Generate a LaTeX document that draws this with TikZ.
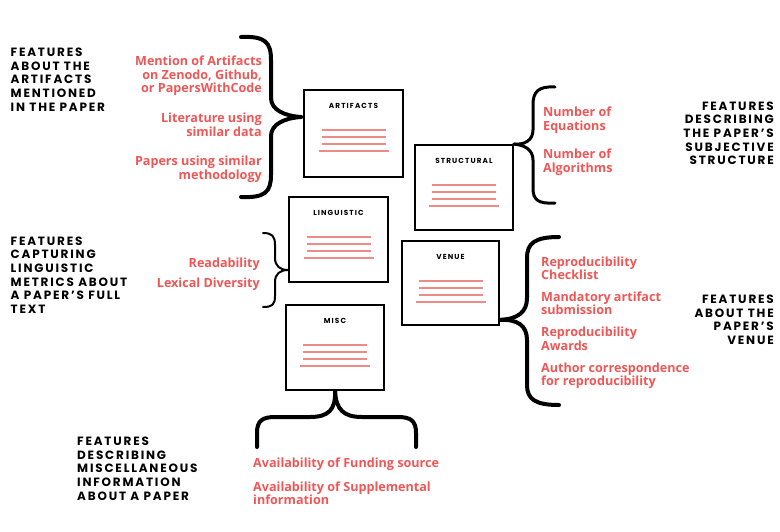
\documentclass[tikz,border=0pt]{standalone}
\usepackage{fontspec}
\setmainfont{Open Sans}
\newfontfamily\headfont[LetterSpace=15]{Poppins}
\newfontfamily\redfont{Open Sans}
\definecolor{redtxt}{HTML}{EF5656}
\definecolor{redln}{HTML}{F08A8A}
\tikzset{
 docbox/.style={draw=black,line width=1.8pt,inner sep=0pt,fill=white},
 boxtitle/.style={font=\headfont\bfseries\fontsize{7.3}{9}\selectfont,inner sep=0pt},
 redline/.style={draw=redln,line width=1.3pt},
 redlabel/.style={font=\redfont\bfseries\fontsize{12.6}{13.3}\selectfont,text=redtxt,inner sep=0pt},
 heading/.style={font=\headfont\bfseries\fontsize{12}{13.6}\selectfont,inner sep=0pt},
 brace/.style={draw=black,line cap=round,line join=round}
}
\newcommand\mydocbox[5]{%
 \node[docbox,minimum width=#3pt,minimum height=#4pt] (#1) at (#2) {};
 \node[boxtitle] (#1t) at ([yshift=-16.5pt]#1.north) {#5};
 \foreach \dy/\hw in {41/32,48/32,55/32,62/35}
  \draw[redline] ([xshift={-\hw pt},yshift={-\dy pt}]#1.north) -- ([xshift={\hw pt},yshift={-\dy pt}]#1.north);
}
\begin{document}
\begin{tikzpicture}[x=1pt,y=-1pt]
\useasboundingbox (0,0) rectangle (780,531);
% boxes
\mydocbox{art}{353.5,133.5}{99}{87}{ARTIFACTS}
\mydocbox{str}{464,187.5}{98}{85}{STRUCTURAL}
\mydocbox{ling}{338.5,239.5}{99}{85}{LINGUISTIC}
\mydocbox{ven}{450.5,283}{97}{84}{VENUE}
\mydocbox{misc}{335,347.5}{98}{85}{MISC}
% brace tips
\coordinate (artTip) at (301,117);
\coordinate (lingTip) at ([yshift=-30.5pt]ling.west);
\coordinate (venTip) at ([yshift=6pt]ven.south east);
% braces
\draw[brace,line width=4pt] (artTip) .. controls (285,116) and (271,110) .. (271,98) -- (271,60) .. controls (271,42) and (265,36) .. (241,37);
\draw[brace,line width=4pt] (artTip) .. controls (285,118) and (271,124) .. (271,136) -- (271,175) .. controls (271,192) and (265,198) .. (241,197);
\draw[brace,line width=3pt] (str.north east) .. controls (525,145) and (533,140) .. (533,130) -- (533,105) .. controls (533,92) and (538,86) .. (555,87);
\draw[brace,line width=3pt] (str.north east) .. controls (525,145) and (533,150) .. (533,160) -- (533,188) .. controls (533,200) and (538,204) .. (555,203);
\draw[brace,line width=2pt] (lingTip) .. controls (280,270) and (275,266) .. (275,258) -- (275,245) .. controls (275,236) and (272,233) .. (263,233);
\draw[brace,line width=2pt] (lingTip) .. controls (280,270) and (275,274) .. (275,282) -- (275,296) .. controls (275,305) and (272,307) .. (263,307);
\draw[brace,line width=4pt] (venTip) .. controls (518,319) and (527,312) .. (527,298) -- (527,258) .. controls (527,243) and (535,237) .. (559,237);
\draw[brace,line width=4pt] (venTip) .. controls (518,319) and (527,326) .. (527,340) -- (527,385) .. controls (527,399) and (535,405) .. (559,405);
\draw[brace,line width=4pt] (misc.south) .. controls (336,410) and (328,417) .. (310,417) -- (275,417) .. controls (262,417) and (257,421) .. (257,433) -- (257,447);
\draw[brace,line width=4pt] (misc.south) .. controls (336,410) and (344,417) .. (362,417) -- (398,417) .. controls (411,417) and (416,421) .. (416,433) -- (416,447);
% red labels
\node[redlabel,align=right,anchor=north east] (a1) at (262,56) {Mention of Artifacts\\on Zenodo, Github,\\or PapersWithCode};
\node[redlabel,align=right,anchor=north east] (a2) at (262,113) {Literature using\\similar data};
\node[redlabel,align=right,anchor=north east] (a3) at (262,156) {Papers using similar\\methodology};
\node[redlabel,align=left,anchor=north west] (s1) at (543,107) {Number of\\Equations};
\node[redlabel,align=left,anchor=north west] (s2) at (543,149) {Number of\\Algorithms};
\node[redlabel,anchor=north east] (l1) at (260,257.5) {Readability};
\node[redlabel,anchor=north east] (l2) at (260,278) {Lexical Diversity};
\node[redlabel,align=left,anchor=north west] (v1) at (541,256.5) {Reproducibility\\Checklist};
\node[redlabel,align=left,anchor=north west] (v2) at (541,291.5) {Mandatory artifact\\submission};
\node[redlabel,align=left,anchor=north west] (v3) at (541,327) {Reproducibility\\Awards};
\node[redlabel,align=left,anchor=north west] (v4) at (541,362.5) {Author correspondence\\for reproducibility};
\node[redlabel,anchor=north west] (m1) at (253,458) {Availability of Funding source};
\node[redlabel,align=left,anchor=north west] (m2) at (253,481.5) {Availability\ of\ Supplemental\\information};
% headings
\node[heading,align=left,anchor=north west] (h1) at (10.5,48) {FEATURES\\ABOUT THE\\ARTIFACTS\\MENTIONED\\IN THE PAPER};
\node[heading,align=left,anchor=north west] (h2) at (10.5,236.5) {FEATURES\\CAPTURING\\LINGUISTIC\\METRICS ABOUT\\A PAPER’S FULL\\TEXT};
\node[heading,align=right,anchor=north east] (h3) at (774,101.5) {FEATURES\\DESCRIBING\\THE PAPER’S\\SUBJECTIVE\\STRUCTURE};
\node[heading,align=right,anchor=north east] (h4) at (774,295) {FEATURES\\ABOUT THE\\PAPER’S\\VENUE};
\node[heading,align=left,anchor=north west] (h5) at (77,437) {FEATURES\\DESCRIBING\\MISCELLANEOUS\\INFORMATION\\ABOUT A PAPER};
\end{tikzpicture}
\end{document}
